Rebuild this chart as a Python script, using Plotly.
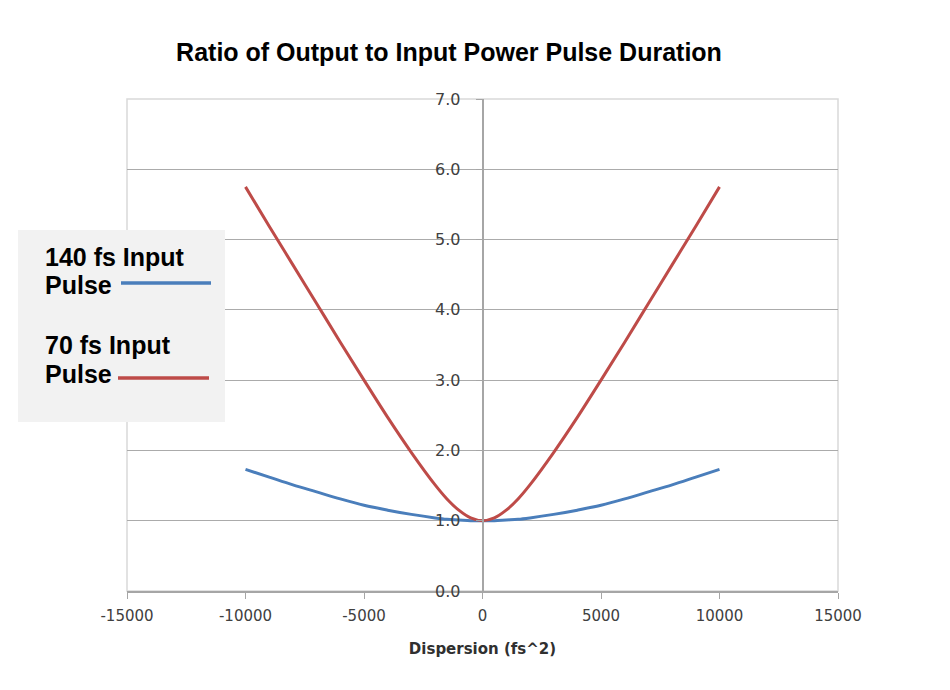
import plotly.graph_objects as go

dispersion = [-10000, -9000, -8000, -7000, -6000, -5000, -4000, -3000, -2000, -1500, -1000, -500,
              0, 500, 1000, 1500, 2000, 3000, 4000, 5000, 6000, 7000, 8000, 9000, 10000]
ratio_140fs = [1.73, 1.62, 1.51, 1.41, 1.31, 1.22, 1.15, 1.09, 1.04, 1.02, 1.01, 1.00,
               1.00, 1.00, 1.01, 1.02, 1.04, 1.09, 1.15, 1.22, 1.31, 1.41, 1.51, 1.62, 1.73]
ratio_70fs = [5.75, 5.19, 4.64, 4.09, 3.54, 3.00, 2.47, 1.97, 1.51, 1.31, 1.15, 1.04,
              1.00, 1.04, 1.15, 1.31, 1.51, 1.97, 2.47, 3.00, 3.54, 4.09, 4.64, 5.19, 5.75]

x_ticks = [-15000, -10000, -5000, 0, 5000, 10000, 15000]
y_ticks = [0, 1, 2, 3, 4, 5, 6, 7]
y_tick_labels = ["0.0", "1.0", "2.0", "3.0", "4.0", "5.0", "6.0", "7.0"]

BLUE = "#4A7EBB"
RED = "#BE4B48"

fig = go.Figure()
fig.add_trace(go.Scatter(x=dispersion, y=ratio_140fs, mode="lines", name="140 fs Input Pulse",
                         line=dict(color=BLUE, width=3, shape="spline", smoothing=1.0), showlegend=False))
fig.add_trace(go.Scatter(x=dispersion, y=ratio_70fs, mode="lines", name="70 fs Input Pulse",
                         line=dict(color=RED, width=3, shape="spline", smoothing=1.0), showlegend=False))

OFF = 8  # page body offset
W, H = 950, 690
L, T = 127 - OFF, 99 - OFF
R, B = W - (838 - OFF), H - (591 - OFF)
pw, ph = W - L - R, H - T - B

def px(xp):
    return (xp - OFF - L) / pw

def py(yp):
    return (H - B - (yp - OFF)) / ph

fig.update_layout(
    width=W, height=H,
    margin=dict(l=L, r=R, t=T, b=B),
    paper_bgcolor="white", plot_bgcolor="white",
    title=dict(text="<b>Ratio of Output to Input Power Pulse Duration</b>",
               font=dict(family="Liberation Sans, Arial", size=25, color="black"),
               x=(449 - OFF) / W, xanchor="center", y=1 - (52 - OFF) / H, yanchor="middle"),
    xaxis=dict(range=[-15000, 15000], tickvals=x_ticks, ticktext=[str(v) for v in x_ticks],
               showgrid=False, zeroline=False, showline=True, linecolor="#A6A6A6", linewidth=1.5,
               ticks="outside", ticklen=6, tickcolor="#A6A6A6", ticklabelstandoff=4,
               tickfont=dict(family="DejaVu Sans, Liberation Sans", size=15, color="#404040"),
               title=dict(text="<b>Dispersion (fs^2)</b>",
                          font=dict(family="DejaVu Sans, Liberation Sans", size=15, color="#303030"),
                          standoff=20)),
    yaxis=dict(range=[0, 7], tickvals=y_ticks, ticktext=y_tick_labels,
               anchor="free", position=0.5, side="left",
               showgrid=True, gridcolor="#ABABAB", gridwidth=1.3,
               zeroline=False, showline=True, linecolor="#A6A6A6", linewidth=1.5,
               ticks="outside", ticklen=6, tickcolor="#A6A6A6", ticklabelstandoff=12,
               tickfont=dict(family="DejaVu Sans, Liberation Sans", size=16, color="#404040")),
    shapes=[
        dict(type="rect", xref="paper", yref="paper", x0=0, x1=1, y0=0, y1=1,
             line=dict(color="#D9D9D9", width=1.5), fillcolor="rgba(0,0,0,0)", layer="below"),
        dict(type="rect", xref="paper", yref="paper", x0=px(18), x1=px(225), y0=py(422), y1=py(230),
             line=dict(width=0), fillcolor="#F2F2F2", layer="above"),
        dict(type="line", xref="paper", yref="paper", x0=px(121), x1=px(211), y0=py(283), y1=py(283),
             line=dict(color=BLUE, width=3.5), layer="above"),
        dict(type="line", xref="paper", yref="paper", x0=px(118), x1=px(209), y0=py(378), y1=py(378),
             line=dict(color=RED, width=3.5), layer="above"),
    ],
)

legend_font = dict(family="Liberation Sans, Arial", size=25, color="black")
for text, ypix in [("<b>140 fs Input</b>", 257), ("<b>Pulse</b>", 285),
                   ("<b>70 fs Input</b>", 345), ("<b>Pulse</b>", 374)]:
    fig.add_annotation(xref="paper", yref="paper", x=px(43), y=py(ypix), text=text,
                       showarrow=False, xanchor="left", yanchor="middle", font=legend_font)

fig.write_html("out.html")
